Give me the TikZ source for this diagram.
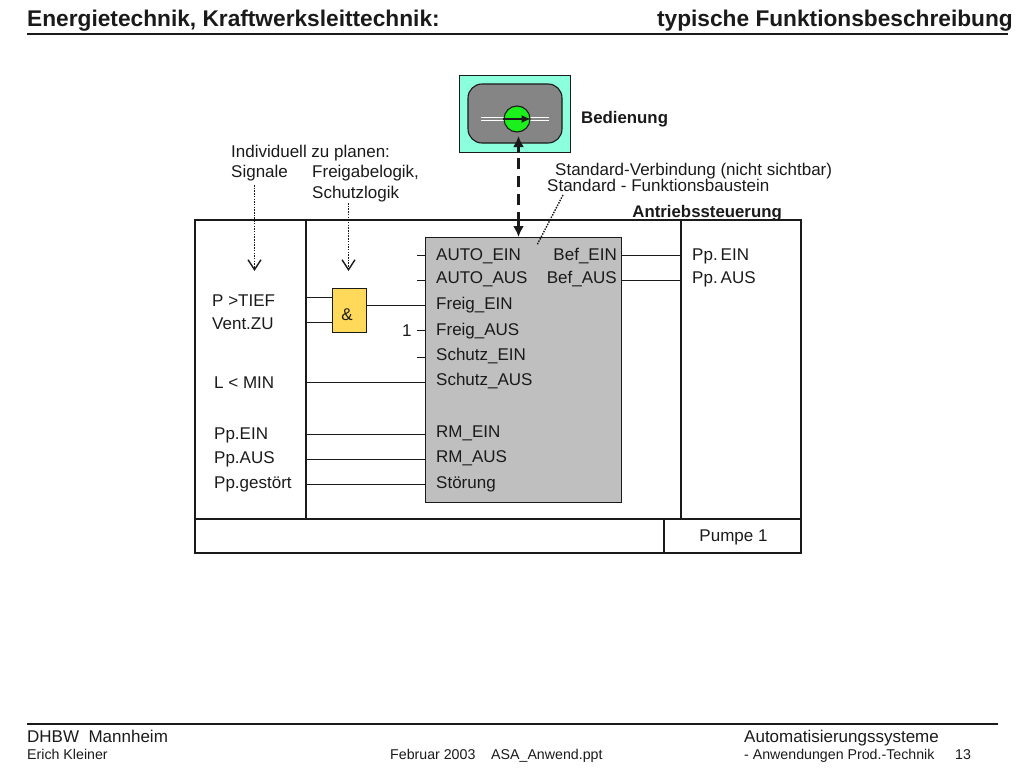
\documentclass[tikz,border=0pt]{standalone}
\usepackage{fontspec}
\setmainfont{Liberation Sans}
\usetikzlibrary{arrows.meta}
\definecolor{mint}{HTML}{8CFFDC}
\definecolor{dgray}{HTML}{858585}
\definecolor{lgray}{HTML}{BFBFBF}
\definecolor{gold}{HTML}{FFD95A}
\definecolor{lime}{HTML}{1CF01C}
\definecolor{ink}{HTML}{1A1A1A}
\begin{document}
\begin{tikzpicture}[x=1pt,y=-1pt,
  lbl/.style={anchor=west,inner sep=0pt,text height=12pt,text depth=3.5pt,yshift=-0.8pt,font=\fontsize{17}{19}\selectfont,text=ink},
  boldlbl/.style={lbl,font=\bfseries\fontsize{16.8}{19}\selectfont},
  small/.style={anchor=west,inner sep=0pt,text height=10.5pt,text depth=3pt,font=\fontsize{14.2}{16}\selectfont,text=ink},
  titletext/.style={inner sep=0pt,text height=16pt,text depth=5pt,font=\bfseries\fontsize{22.7}{25}\selectfont,text=ink},
  wire/.style={draw=ink,line width=1pt},
  frameline/.style={draw=ink,line width=2pt},
  thinframe/.style={draw=ink,line width=1.2pt},
  dots/.style={draw=ink,line width=1.4pt,dash pattern=on 1.5pt off 1.2pt},
  openarrow/.style={dots,-{Straight Barb[length=10pt,width=13pt,line width=1.4pt]}},
  dashconn/.style={draw=ink,line width=2.6pt,dash pattern=on 11pt off 7pt},
  solidhead/.style={draw=ink,line width=2.6pt,-{Latex[length=11pt,width=11pt]}}]
\useasboundingbox (0,0) rectangle (1024,768);
% title
\node[titletext,anchor=west] (t1) at (27,21) {Energietechnik, Kraftwerksleittechnik:};
\node[titletext,anchor=east] (t2) at (1013,21) {typische Funktionsbeschreibung};
\coordinate (tl) at (27,34); \coordinate (tr) at (1008,34);
\draw[draw=ink,line width=1.2pt] (tl) -- (tr);
% operator symbol
\node[draw=ink,fill=mint,line width=0.9pt,minimum width=111pt,minimum height=77pt,inner sep=0pt] (bed) at (514.5,113.5) {};
\node[draw=ink,fill=dgray,line width=1.1pt,rounded corners=14pt,minimum width=94pt,minimum height=59pt,inner sep=0pt] (panel) at (515,113.5) {};
\coordinate (ba) at (481,117.5); \coordinate (bb) at (549,117.5);
\coordinate (bc) at (481,120.5); \coordinate (bd) at (549,120.5);
\draw[white,line width=1.4pt] (ba) -- (bb);
\draw[white,line width=1.4pt] (bc) -- (bd);
\node[circle,draw=ink,fill=lime,line width=1.1pt,minimum size=26pt,inner sep=0pt] (pump) at (517,119) {};
\draw[draw=ink,line width=1.1pt,-{Latex[length=9pt,width=8pt]}] (pump.west) -- (pump.east);
\node[boldlbl] (bedl) at (581,118) {Bedienung};
% annotations
\node[lbl] (n1) at (231,152) {Individuell zu planen:};
\node[lbl] (n2) at (231,172.5) {Signale};
\node[lbl] (n3) at (312,172.5) {Freigabelogik,};
\node[lbl] (n4) at (312,193) {Schutzlogik};
\node[lbl] (n5) at (555,170) {Standard-Verbindung (nicht sichtbar)};
\node[lbl] (n6) at (547,186) {Standard - Funktionsbaustein};
\node[boldlbl,anchor=east] (n7) at (782,212) {Antriebssteuerung};
% frame
\coordinate (f1) at (195,220); \coordinate (f2) at (801,553);
\coordinate (fl) at (195,519); \coordinate (fr) at (801,519);
\coordinate (va) at (306,220); \coordinate (vb) at (306,519);
\coordinate (vc) at (681,220); \coordinate (vd) at (681,519);
\coordinate (ve) at (664,519); \coordinate (vf) at (664,553);
\draw[thinframe] (va) -- (vb);
\draw[thinframe] (vc) -- (vd);
\draw[thinframe] (ve) -- (vf);
\draw[frameline] (f1) rectangle (f2);
\draw[frameline] (fl) -- (fr);
\node[lbl,anchor=center] (pumpe) at (733.5,536) {Pumpe 1};
% block
\node[draw=ink,fill=lgray,line width=1.1pt,anchor=north west,minimum width=196pt,minimum height=265pt,inner sep=0pt] (fb) at (425,237) {};
\foreach \nm/\yy/\tx in {a/255/AUTO\_EIN,b/278/AUTO\_AUS,c/304/Freig\_EIN,d/330/Freig\_AUS,e/355/Schutz\_EIN,f/380/Schutz\_AUS,g/432/RM\_EIN,h/457/RM\_AUS,i/483/Störung}
  \node[lbl] (in\nm) at (436,\yy) {\tx};
\node[lbl,anchor=east] (outa) at (617,255) {Bef\_EIN};
\node[lbl,anchor=east] (outb) at (617,278) {Bef\_AUS};
% logic
\node[draw=ink,fill=gold,line width=0.9pt,minimum width=34pt,minimum height=44pt,inner sep=0pt,font=\fontsize{17}{19}\selectfont,text=ink] (and) at (349,310) {\kern-4pt\smash{\raisebox{-10pt}{\&}}};
\coordinate (and1) at (332,297); \coordinate (and2) at (332,322);
\coordinate (s1) at (306,297); \coordinate (s2) at (306,322);
\draw[wire] (s1) -- (and1);
\draw[wire] (s2) -- (and2);
\coordinate (fb3) at (425,305.5); \coordinate (and3) at (366,305.5);
\draw[wire] (and3) -- (fb3);
% stubs
\foreach \nm/\yy in {a/255,b/280,d/330,e/357}{
  \coordinate (st\nm) at (417,\yy); \coordinate (sf\nm) at (425,\yy);
  \draw[wire] (st\nm) -- (sf\nm);}
\node[lbl] (one) at (402,331) {1};
% left wires
\foreach \nm/\yy in {f/382,g/434,h/459,i/484}{
  \coordinate (lw\nm) at (306,\yy); \coordinate (lf\nm) at (425,\yy);
  \draw[wire] (lw\nm) -- (lf\nm);}
% right wires
\foreach \nm/\yy in {a/255,b/280}{
  \coordinate (ra\nm) at (621,\yy); \coordinate (rb\nm) at (681,\yy);
  \draw[wire] (ra\nm) -- (rb\nm);}
\node[lbl] (ppe) at (692,255) {Pp.\kern3pt EIN};
\node[lbl] (ppa) at (692,278) {Pp.\kern3pt AUS};
% left labels
\node[lbl] (l1) at (212,301) {P >TIEF};
\node[lbl] (l2) at (212,324) {Vent.ZU};
\node[lbl] (l3) at (214,383) {L < MIN};
\node[lbl] (l4) at (214,434) {Pp.EIN};
\node[lbl] (l5) at (214,458) {Pp.AUS};
\node[lbl] (l6) at (214,483) {Pp.gestört};
% dotted arrows
\coordinate (d1) at (254.5,185); \coordinate (d2) at (254.5,271);
\coordinate (d3) at (348.5,203); \coordinate (d4) at (348.5,271);
\coordinate (d5) at (563,195); \coordinate (d6) at (537,245);
\draw[openarrow] (d1) -- (d2);
\draw[openarrow] (d3) -- (d4);
\draw[dots] (d5) -- (d6);
% connection
\coordinate (c1) at (518.5,152); \coordinate (c2) at (518.5,136);
\coordinate (c3) at (518.5,158); \coordinate (c4) at (518.5,222); \coordinate (c5) at (518.5,237);
\draw[solidhead] (c1) -- (c2);
\draw[dashconn] (c3) -- (c4);
\draw[solidhead] (c4) -- (c5);
% footer
\coordinate (fa) at (27,724); \coordinate (fb2) at (998,724);
\draw[draw=ink,line width=1.4pt] (fa) -- (fb2);
\node[lbl] (h1) at (27,737) {DHBW\ \ Mannheim};
\node[lbl] (h2) at (744,737) {Automatisierungssysteme};
\node[small] (h3) at (27,755.5) {Erich Kleiner};
\node[small] (h4) at (390,755.5) {Februar 2003};
\node[small] (h5) at (491,755.5) {ASA\_Anwend.ppt};
\node[small] (h6) at (744,755.5) {- Anwendungen Prod.-Technik};
\node[small] (h7) at (955,755.5) {13};
\end{tikzpicture}
\end{document}
